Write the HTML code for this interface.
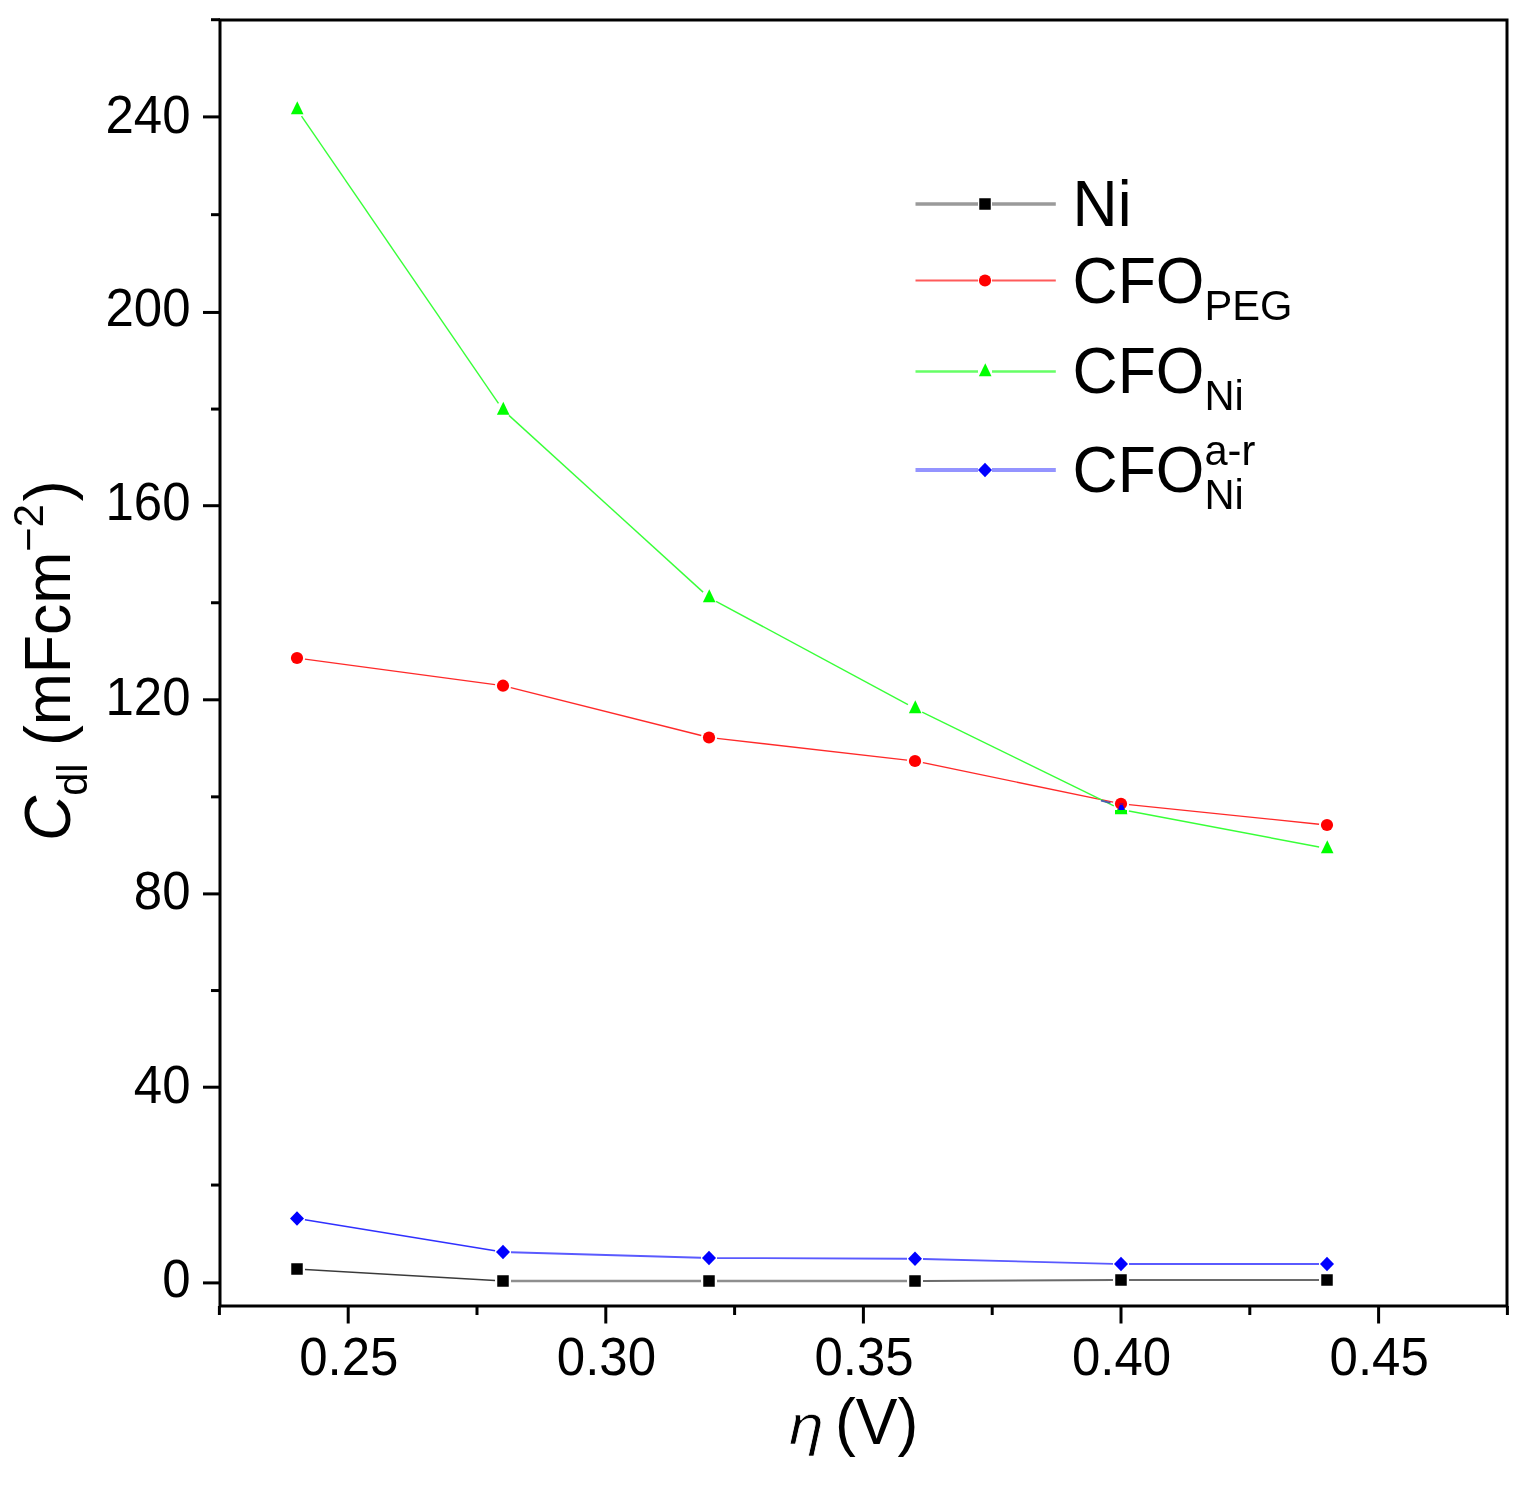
<!DOCTYPE html>
<html><head><meta charset="utf-8"><title>Cdl vs overpotential</title>
<style>html,body{margin:0;padding:0;background:#fff;}body{width:1528px;height:1493px;overflow:hidden;}svg{display:block;}</style>
</head><body>
<svg width="1528" height="1493" viewBox="0 0 1528 1493">
<rect width="1528" height="1493" fill="#fff"/>
<g stroke-width="1.4"><line x1="304.99" y1="1269.47" x2="495.01" y2="1280.53" stroke="#3a3a3a"/><line x1="511.00" y1="1281.00" x2="701.00" y2="1281.00" stroke="#8f8f8f" stroke-width="2.6"/><line x1="717.00" y1="1281.00" x2="907.00" y2="1281.00" stroke="#8f8f8f" stroke-width="2.6"/><line x1="923.00" y1="1280.96" x2="1113.00" y2="1280.04" stroke="#6a6a6a" stroke-width="2.0"/><line x1="1129.00" y1="1280.00" x2="1319.00" y2="1280.00" stroke="#6a6a6a" stroke-width="2.0"/><line x1="304.93" y1="659.07" x2="495.07" y2="684.63" stroke="#ff2a2a"/><line x1="510.76" y1="687.65" x2="701.24" y2="735.55" stroke="#ff2a2a"/><line x1="716.95" y1="738.41" x2="907.05" y2="760.09" stroke="#ff2a2a"/><line x1="922.83" y1="762.63" x2="1113.17" y2="802.17" stroke="#ff2a2a"/><line x1="1128.96" y1="804.62" x2="1319.04" y2="824.18" stroke="#ff2a2a"/><line x1="301.52" y1="116.10" x2="498.48" y2="403.40" stroke="#38ff38"/><line x1="508.92" y1="415.38" x2="703.08" y2="592.12" stroke="#38ff38"/><line x1="716.04" y1="601.29" x2="907.96" y2="704.71" stroke="#38ff38"/><line x1="922.18" y1="712.02" x2="1113.82" y2="805.98" stroke="#38ff38"/><line x1="1128.86" y1="810.99" x2="1319.14" y2="847.01" stroke="#38ff38"/><line x1="304.90" y1="1219.78" x2="495.10" y2="1250.72" stroke="#3030ff"/><line x1="511.00" y1="1252.23" x2="701.00" y2="1257.77" stroke="#5a5aff" stroke-width="1.8"/><line x1="717.00" y1="1258.03" x2="907.00" y2="1258.77" stroke="#5a5aff" stroke-width="1.8"/><line x1="923.00" y1="1259.00" x2="1113.00" y2="1263.80" stroke="#5a5aff" stroke-width="1.8"/><line x1="1129.00" y1="1264.00" x2="1319.00" y2="1264.00" stroke="#5a5aff" stroke-width="1.8"/></g>
<g><rect x="291.25" y="1263.25" width="11.5" height="11.5" fill="#000000"/><rect x="497.25" y="1275.25" width="11.5" height="11.5" fill="#000000"/><rect x="703.25" y="1275.25" width="11.5" height="11.5" fill="#000000"/><rect x="909.25" y="1275.25" width="11.5" height="11.5" fill="#000000"/><rect x="1115.25" y="1274.25" width="11.5" height="11.5" fill="#000000"/><rect x="1321.25" y="1274.25" width="11.5" height="11.5" fill="#000000"/><polygon points="297.30,101.20 303.50,114.30 290.90,114.30" fill="#00ff00"/><polygon points="503.30,401.70 509.50,414.80 496.90,414.80" fill="#00ff00"/><polygon points="709.30,589.20 715.50,602.30 702.90,602.30" fill="#00ff00"/><polygon points="915.30,700.20 921.50,713.30 908.90,713.30" fill="#00ff00"/><polygon points="1121.30,801.20 1127.50,814.30 1114.90,814.30" fill="#00ff00"/><polygon points="1327.30,840.20 1333.50,853.30 1320.90,853.30" fill="#00ff00"/><circle cx="297.00" cy="658.00" r="6.1" fill="#ff0000"/><circle cx="503.00" cy="685.70" r="6.1" fill="#ff0000"/><circle cx="709.00" cy="737.50" r="6.1" fill="#ff0000"/><circle cx="915.00" cy="761.00" r="6.1" fill="#ff0000"/><circle cx="1121.00" cy="803.80" r="6.1" fill="#ff0000"/><circle cx="1327.00" cy="825.00" r="6.1" fill="#ff0000"/><polygon points="297.00,1211.20 304.00,1218.50 297.00,1225.80 290.00,1218.50" fill="#0000ff"/><polygon points="503.00,1244.70 510.00,1252.00 503.00,1259.30 496.00,1252.00" fill="#0000ff"/><polygon points="709.00,1250.70 716.00,1258.00 709.00,1265.30 702.00,1258.00" fill="#0000ff"/><polygon points="915.00,1251.50 922.00,1258.80 915.00,1266.10 908.00,1258.80" fill="#0000ff"/><polygon points="1121.00,1256.70 1128.00,1264.00 1121.00,1271.30 1114.00,1264.00" fill="#0000ff"/><polygon points="1327.00,1256.70 1334.00,1264.00 1327.00,1271.30 1320.00,1264.00" fill="#0000ff"/><polygon points="1121.3,804.2 1123.2,805.5 1124.2,808 1124.6,810 1118.4,810 1118.8,807 1119.6,805.5" fill="#0000ff"/><rect x="1119.5" y="803" width="4" height="2" fill="#9a0060"/><rect x="1115" y="810" width="12" height="4" fill="#00ff00"/><line x1="1101" y1="800.6" x2="1110.5" y2="802.8" stroke="#4a5ab0" stroke-width="1.7"/></g>
<rect x="220" y="20" width="1287" height="1286" fill="none" stroke="#000" stroke-width="3"/>
<g stroke="#000" stroke-width="3"><line x1="203" y1="1282.90" x2="220" y2="1282.90"/><line x1="203" y1="1087.20" x2="220" y2="1087.20"/><line x1="203" y1="893.90" x2="220" y2="893.90"/><line x1="203" y1="699.80" x2="220" y2="699.80"/><line x1="203" y1="505.70" x2="220" y2="505.70"/><line x1="203" y1="312.45" x2="220" y2="312.45"/><line x1="203" y1="116.90" x2="220" y2="116.90"/><line x1="211" y1="1185.05" x2="220" y2="1185.05"/><line x1="211" y1="990.55" x2="220" y2="990.55"/><line x1="211" y1="796.85" x2="220" y2="796.85"/><line x1="211" y1="602.75" x2="220" y2="602.75"/><line x1="211" y1="409.07" x2="220" y2="409.07"/><line x1="211" y1="214.68" x2="220" y2="214.68"/><line x1="211" y1="19.70" x2="220" y2="19.70"/><line x1="348.20" y1="1306" x2="348.20" y2="1323.5"/><line x1="605.80" y1="1306" x2="605.80" y2="1323.5"/><line x1="863.40" y1="1306" x2="863.40" y2="1323.5"/><line x1="1121.00" y1="1306" x2="1121.00" y2="1323.5"/><line x1="1378.60" y1="1306" x2="1378.60" y2="1323.5"/><line x1="219.40" y1="1306" x2="219.40" y2="1315"/><line x1="477.00" y1="1306" x2="477.00" y2="1315"/><line x1="734.60" y1="1306" x2="734.60" y2="1315"/><line x1="992.20" y1="1306" x2="992.20" y2="1315"/><line x1="1249.80" y1="1306" x2="1249.80" y2="1315"/><line x1="1507.40" y1="1306" x2="1507.40" y2="1315"/></g>
<g font-family="'Liberation Sans', Arial, sans-serif" font-size="51" fill="#000"><text transform="translate(190.50,132.67) scale(1,1.035)" text-anchor="end">240</text><text transform="translate(190.50,326.07) scale(1,1.035)" text-anchor="end">200</text><text transform="translate(190.50,519.87) scale(1,1.035)" text-anchor="end">160</text><text transform="translate(190.50,715.07) scale(1,1.035)" text-anchor="end">120</text><text transform="translate(190.50,909.07) scale(1,1.035)" text-anchor="end">80</text><text transform="translate(190.50,1102.87) scale(1,1.035)" text-anchor="end">40</text><text transform="translate(190.50,1297.07) scale(1,1.035)" text-anchor="end">0</text><text transform="translate(348.80,1375.47) scale(1,1.035)" text-anchor="middle">0.25</text><text transform="translate(606.40,1375.47) scale(1,1.035)" text-anchor="middle">0.30</text><text transform="translate(864.00,1375.47) scale(1,1.035)" text-anchor="middle">0.35</text><text transform="translate(1121.60,1375.47) scale(1,1.035)" text-anchor="middle">0.40</text><text transform="translate(1379.20,1375.47) scale(1,1.035)" text-anchor="middle">0.45</text></g>
<g font-family="'Liberation Sans', Arial, sans-serif" font-size="62.5" fill="#000">
<text transform="translate(70.4,841) rotate(-90) scale(1,1.035)"><tspan font-style="italic">C</tspan><tspan font-size="41.7" dy="16.5">dl</tspan><tspan dy="-16.5"> (mFcm</tspan><tspan font-size="41.7" dy="-26">−2</tspan><tspan dy="26" dx="3">)</tspan></text>
<text transform="translate(789,1444.2) scale(1,0.875)" font-style="italic" stroke="#fff" stroke-width="0.8">η</text>
<text transform="translate(835.00,1444.20) scale(1,1.035)">(V)</text>
</g>
<g font-family="'Liberation Sans', Arial, sans-serif" font-size="62.5" fill="#000"><line x1="915.5" y1="204" x2="978.0" y2="204" stroke="#9a9a9a" stroke-width="3.4"/><line x1="992.0" y1="204" x2="1055.8" y2="204" stroke="#9a9a9a" stroke-width="3.4"/><rect x="979.25" y="198.25" width="11.5" height="11.5" fill="#000000"/><text transform="translate(1072.50,225.80) scale(1,1.035)">Ni</text><line x1="915.5" y1="280.5" x2="978.0" y2="280.5" stroke="#ff5a5a" stroke-width="2.2"/><line x1="992.0" y1="280.5" x2="1055.8" y2="280.5" stroke="#ff5a5a" stroke-width="2.2"/><circle cx="985.00" cy="280.50" r="6.1" fill="#ff0000"/><text transform="translate(1072.50,302.70) scale(1,1.035)">CFO<tspan font-size="41.7" dy="16.5">PEG</tspan></text><line x1="915.5" y1="371.5" x2="978.0" y2="371.5" stroke="#66ff66" stroke-width="2.4"/><line x1="992.0" y1="371.5" x2="1055.8" y2="371.5" stroke="#66ff66" stroke-width="2.4"/><polygon points="985.30,363.20 991.50,376.30 978.90,376.30" fill="#00ff00"/><text transform="translate(1072.50,393.40) scale(1,1.035)">CFO<tspan font-size="41.7" dy="16.5">Ni</tspan></text><line x1="915.5" y1="470" x2="978.0" y2="470" stroke="#9494ff" stroke-width="3.8"/><line x1="992.0" y1="470" x2="1055.8" y2="470" stroke="#9494ff" stroke-width="3.8"/><polygon points="985.00,462.70 992.00,470.00 985.00,477.30 978.00,470.00" fill="#0000ff"/><text transform="translate(1072.50,491.60) scale(1,1.035)">CFO<tspan font-size="41.7" x="131.9" dy="-26">a-r</tspan><tspan font-size="41.7" x="131.9" dy="43.2">Ni</tspan></text></g>
</svg>
</body></html>
